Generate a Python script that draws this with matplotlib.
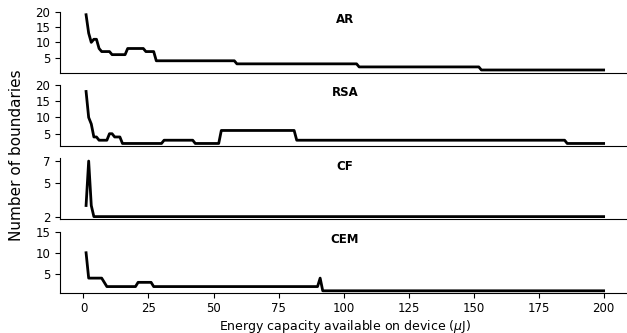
import numpy as np
import matplotlib
matplotlib.use("Agg")
import matplotlib.pyplot as plt

# Data (energy capacity in uJ -> number of boundaries)
ar_x = [1, 2, 3, 4, 5, 6, 7, 10, 11, 16, 17, 23, 24, 27, 28, 58, 59, 105, 106, 152, 153, 200]
ar_y = [19, 13, 10, 11, 11, 8, 7, 7, 6, 6, 8, 8, 7, 7, 4, 4, 3, 3, 2, 2, 1, 1]

rsa_x = [1, 2, 3, 4, 5, 6, 9, 10, 11, 12, 14, 15, 30, 31, 42, 43, 52, 53, 81, 82, 185, 186, 200]
rsa_y = [18, 10, 8, 4, 4, 3, 3, 5, 5, 4, 4, 2, 2, 3, 3, 2, 2, 6, 6, 3, 3, 2, 2]

cf_x = [1, 2, 3, 4, 200]
cf_y = [3, 7, 3, 2, 2]

cem_x = [1, 2, 7, 9, 20, 21, 26, 27, 90, 91, 92, 200]
cem_y = [10, 4, 4, 2, 2, 3, 3, 2, 2, 4, 1, 1]

names = ["AR", "RSA", "CF", "CEM"]
xs = [ar_x, rsa_x, cf_x, cem_x]
ys = [ar_y, rsa_y, cf_y, cem_y]
yticks = [[5, 10, 15, 20], [5, 10, 15, 20], [2, 5, 7], [5, 10, 15]]
xticks = [0, 25, 50, 75, 100, 125, 150, 175, 200]

fig, axes = plt.subplots(4, 1, figsize=(6.27, 3.33), dpi=100, sharex=True)
fig.subplots_adjust(left=0.096, right=1.004, top=0.965, bottom=0.121, hspace=0.2)

for ax, n, x, y, yt in zip(axes, names, xs, ys, yticks):
    ax.plot(x, y, color="black", lw=2)
    ax.set_yticks(yt)
    ax.spines["top"].set_visible(False)
    ax.spines["right"].set_visible(False)
    ax.tick_params(axis="y", labelsize=8.5, length=3.5)
    ax.text(0.5, 0.87, n, transform=ax.transAxes, ha="center", va="center",
            fontsize=8.5, fontweight="bold")

for ax in axes[:-1]:
    ax.tick_params(axis="x", length=0, labelbottom=False)

axes[-1].set_xticks(xticks)
axes[-1].tick_params(axis="x", labelsize=8.5, length=3.5)
axes[-1].set_xlim(-8.95, 209.95)
axes[-1].set_xlabel("Energy capacity available on device ($\\mu$J)", fontsize=9,
                    labelpad=1.5)

fig.text(0.027, 0.535, "Number of boundaries", ha="center", va="center",
         rotation=90, fontsize=11)

fig.savefig("out.png", dpi=100)
